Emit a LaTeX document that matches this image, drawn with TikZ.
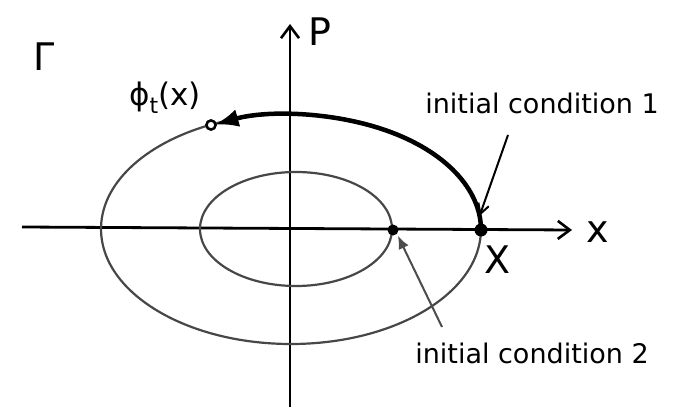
\documentclass[tikz,border=0pt]{standalone}
\usepackage{fontspec}
\setmainfont{DejaVu Sans}
\usetikzlibrary{arrows.meta}
\begin{document}
\begin{tikzpicture}[x=1pt,y=-1pt,
  axis/.style={line width=2.8pt,-{Straight Barb[length=12pt,width=18pt,line width=2.6pt]}},
  orbit/.style={line width=2.2pt,black!72},
  flow/.style={line width=4.5pt,-{Latex[length=24pt,width=18pt]}},
  pointer/.style={line width=2pt,-{Straight Barb[length=10pt,width=11pt,line width=2pt]}},
  dot/.style={circle,fill=black,inner sep=0pt,minimum size=13pt},
  odot/.style={circle,draw=black,line width=2.4pt,fill=white,inner sep=0pt,minimum size=9pt},
  lbl/.style={font=\fontsize{27}{30}\selectfont,inner sep=0pt},
  sym/.style={font=\fontsize{38}{40}\selectfont,inner sep=0pt}]
\useasboundingbox (0,0) rectangle (690,409);
% axes
\coordinate (xl) at (22,227);
\coordinate (xr) at (572,230);
\coordinate (yb) at (290,407);
\coordinate (yt) at (290,24);
\draw[axis] (xl) -- (xr);
\draw[axis] (yb) -- (yt);
% orbits
\draw[orbit] (291,229) ellipse[x radius=190,y radius=115];
\draw[orbit] (296,229) ellipse[x radius=96,y radius=57];
% points
\node[dot] (X) at (481,230) {};
\node[dot,minimum size=11pt] (X2) at (393,230) {};
\node[odot] (phi) at (211,125) {};
% thick flow arc
\draw[flow,shorten >=4pt] (X.center) arc[start angle=0,end angle=-115,x radius=190,y radius=115];
\node[odot] at (phi) {};
% labels
\node[sym] (G) at (44,57) {Γ};
\node[sym] (P) at (320,32) {P};
\node[sym] (xlab) at (598,232) {x};
\node[sym] (Xlab) at (498,260) {X};
\node[lbl,font=\fontsize{31}{34}\selectfont] (philab) at (165,98) {ϕ\raisebox{-8pt}{\fontsize{22}{24}\selectfont t}(x)};
\node[lbl] (ic1) at (542,103) {initial condition 1};
\node[lbl] (ic2) at (532,353) {initial condition 2};
% pointers
\coordinate (p1s) at (508,135);
\coordinate (p2s) at (442,327);
\draw[pointer,shorten >=10pt] (p1s) -- (X.north west);
\draw[pointer,black!70,-{Latex[length=13pt,width=11pt]},shorten >=2pt] (p2s) -- (X2.south east);
\end{tikzpicture}
\end{document}
